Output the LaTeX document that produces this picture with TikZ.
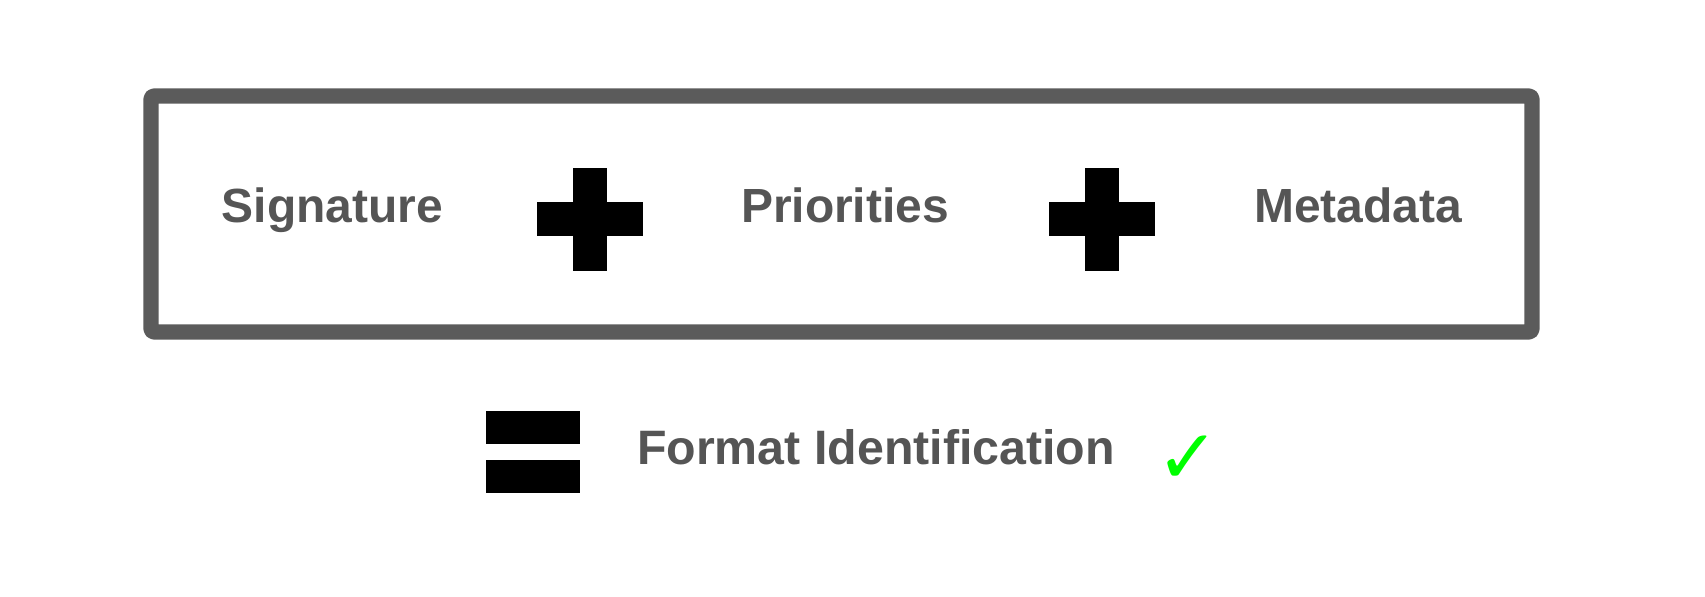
\documentclass[tikz,border=0pt]{standalone}
\usepackage{fontspec}
\setmainfont{Liberation Sans}
\newfontfamily\symfont{DejaVu Sans}
\usepackage{tikz}
\definecolor{boxgray}{HTML}{5B5B5B}
\definecolor{textgray}{HTML}{555555}
\definecolor{okgreen}{HTML}{00FF00}
\tikzset{
    term/.style={text=textgray, font=\fontsize{27.3}{30}\selectfont\bfseries, anchor=base, inner sep=0pt},
    opbar/.style={fill=black}
}

\begin{document}
\begin{tikzpicture}[x=0.02cm, y=0.02cm]
    \useasboundingbox (0, 0) rectangle (1705, 597);

    % Outer box
    \draw[boxgray, line width=8.8pt, rounded corners=2pt, line join=round] (151, 265) rectangle (1532, 501);

    % Terms
    \node[term] (sig) at (332.5, 374) {Signature};
    \node[term] (prio) at (845, 374) {Priorities};
    \node[term] (meta) at (1358, 374) {Metadata};

    % Plus signs
    \foreach \cx in {589.5, 1101.5} {
        \fill[opbar] (\cx-53, 360.5) rectangle (\cx+53, 394.5);
        \fill[opbar] (\cx-17, 326) rectangle (\cx+17, 429);
    }

    % Equals sign
    \fill[opbar] (486, 153) rectangle (580, 186);
    \fill[opbar] (486, 104) rectangle (580, 137);

    % Result
    \node[term, font=\fontsize{27.5}{30}\selectfont\bfseries] (res) at (876, 132) {Format Identification};
    \node[okgreen, font=\symfont\bfseries\fontsize{43}{46}\selectfont, inner sep=0pt] (ok) at (1188, 137) {✓};
\end{tikzpicture}
\end{document}
